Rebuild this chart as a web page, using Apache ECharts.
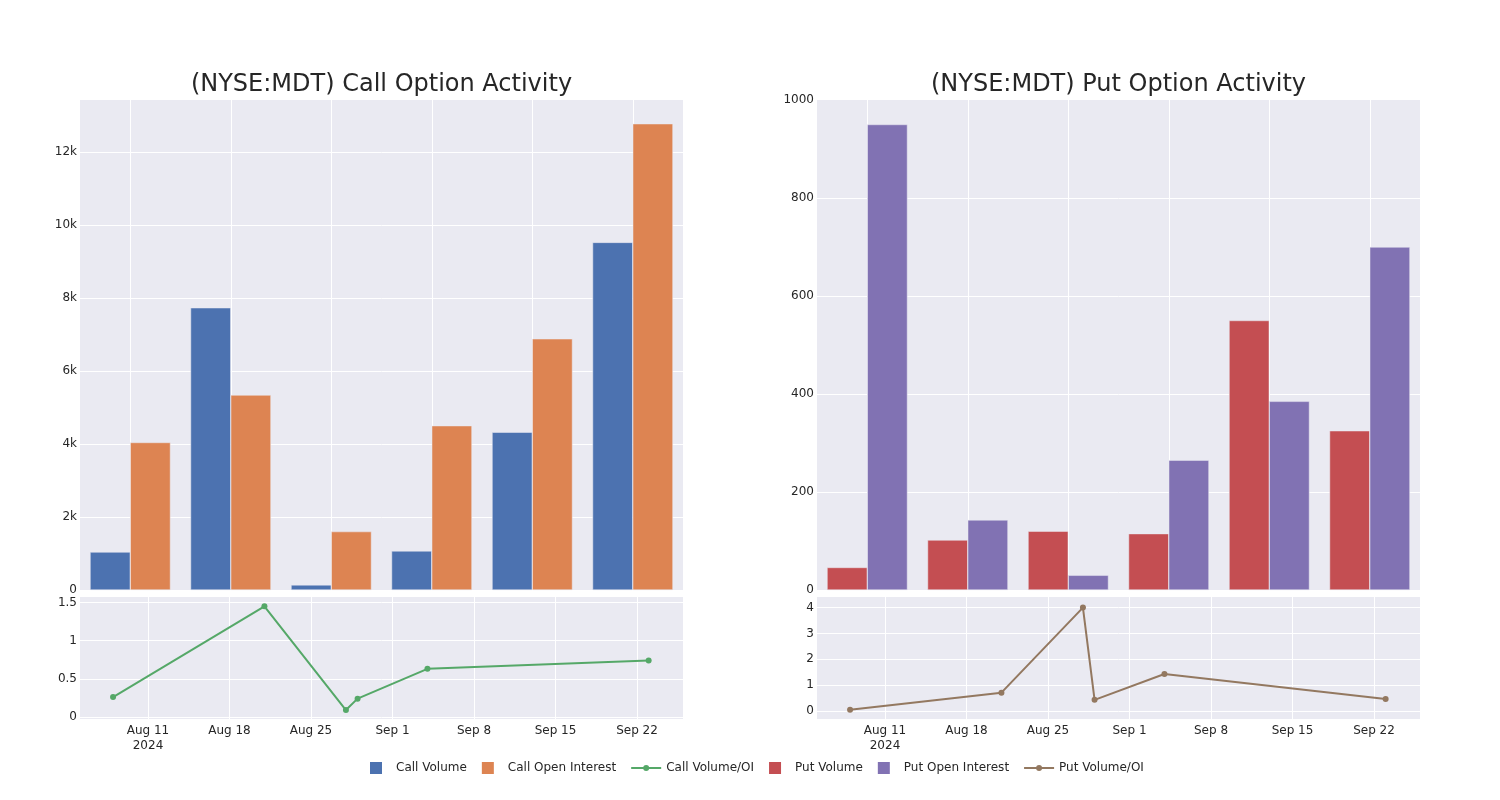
<!DOCTYPE html>
<html><head><meta charset="utf-8">
<script src="https://cdn.jsdelivr.net/npm/echarts@6/dist/echarts.min.js"></script>
<style>html,body{margin:0;padding:0;background:#fff}#c{width:1500px;height:800px}</style>
</head><body><div id="c"></div>
<script>
// ---- data ----
const dates = ['2024-08-08','2024-08-21','2024-08-28','2024-08-29','2024-09-04','2024-09-23'];
const callVolume = [1040, 7730, 140, 1070, 4320, 9520];
const callOpenInterest = [4040, 5340, 1600, 4500, 6880, 12770];
const callRatio = [0.26, 1.45, 0.09, 0.24, 0.63, 0.74];
const putVolume = [46, 102, 120, 115, 550, 325];
const putOpenInterest = [950, 143, 30, 265, 385, 700];
const putRatio = [0.05, 0.71, 4.0, 0.43, 1.43, 0.46];
const titles = ['(NYSE:MDT) Call Option Activity', '(NYSE:MDT) Put Option Activity'];
const monthNames = ['Jan','Feb','Mar','Apr','May','Jun','Jul','Aug','Sep','Oct','Nov','Dec'];

// ---- helpers ----
const DAY = 86400000;
const REF = Date.UTC(2024, 7, 4); // a Sunday; axis counts days from here
const dayOf = s => (Date.parse(s + 'T00:00:00Z') - REF) / DAY;
const X_MIN = 1.16, X_MAX = 52.95;
const firstWeek = Math.ceil(X_MIN / 7) * 7;
const isMult = (v, m) => Math.abs(v / m - Math.round(v / m)) < 1e-6;

const FONT = 'DejaVu Sans';
const TXT = '#262626';
const BG = '#EAEAF2';
const C = {cv:'#4C72B0', coi:'#DD8452', cr:'#55A868', pv:'#C44E52', poi:'#8172B3', pr:'#937860'};

const grids = [
  {left:80, top:100, width:603, height:490},
  {left:80, top:597, width:603, height:122},
  {left:817, top:100, width:603, height:490},
  {left:817, top:597, width:603, height:122}
].map(g => Object.assign({show:true, backgroundColor:BG, borderWidth:0, containLabel:false}, g));

const splitLine = {show:true, lineStyle:{color:'#ffffff', width:1}, showMinLine:false, showMaxLine:false};
const lbl = {color:TXT, fontFamily:FONT, fontSize:12};

function barX(gi) {
  return {type:'category', gridIndex:gi, data:dates, boundaryGap:true,
    axisLabel:{show:false}, axisTick:{show:false, alignWithLabel:true}, axisLine:{show:false},
    splitLine:{show:true, alignWithLabel:true, lineStyle:{color:'#fff', width:1}}};
}
function lineX(gi) {
  return {type:'value', gridIndex:gi, min:X_MIN, max:X_MAX, minInterval:7, maxInterval:7,
    axisTick:{show:false}, axisLine:{show:false}, splitLine:splitLine,
    axisLabel:Object.assign({margin:4, lineHeight:15, showMinLabel:true, showMaxLabel:true,
      formatter: v => {
        if (!isMult(v, 7)) return '';
        const d = new Date(REF + Math.round(v) * DAY);
        const s = monthNames[d.getUTCMonth()] + ' ' + d.getUTCDate();
        return Math.round(v) === firstWeek ? s + '\n' + d.getUTCFullYear() : s;
      }}, lbl)};
}
function yAx(gi, min, max, step, fmt) {
  return {type:'value', gridIndex:gi, min:min, max:max, minInterval:step, maxInterval:step,
    axisTick:{show:false}, axisLine:{show:false}, splitLine:Object.assign({}, splitLine, {showMinLine: min !== 0}),
    axisLabel:Object.assign({margin:3, showMinLabel:true, showMaxLabel:true,
      formatter: v => isMult(v, step) ? fmt(Math.round(v / step) * step) : ''}, lbl)};
}
const kFmt = v => v === 0 ? '0' : (v / 1000) + 'k';
const nFmt = v => String(+v.toFixed(2));

const barStyle = c => ({color:c, borderColor:BG, borderWidth:0.5});
const lineSeries = (name, xi, vals, color) => ({
  name, type:'line', xAxisIndex:xi, yAxisIndex:xi,
  data: dates.map((d, i) => [dayOf(d), vals[i]]),
  symbol:'circle', symbolSize:6, lineStyle:{width:2, color}, itemStyle:{color}, z:3
});
const sq = 'path://M0,0H10V10H0Z';
const lineIcon = 'path://M0,0M30,12M0,5H30V7H0ZM18,6A3,3,0,1,1,12,6A3,3,0,1,1,18,6Z';

const option = {
  animation:false,
  backgroundColor:'#ffffff',
  textStyle:{fontFamily:FONT},
  title: titles.map((t, i) => ({text:t, left: i === 0 ? 376.5 : 1113.5, top:68, textAlign:'center',
    textStyle:{fontFamily:FONT, fontSize:24, fontWeight:'normal', color:TXT}})),
  grid: grids,
  legend: {
    bottom: 26, left:370, itemWidth:30, itemHeight:12, itemGap:15, padding:0,
    itemStyle:{borderWidth:0},
    textStyle:{fontFamily:FONT, fontSize:12, color:TXT},
    data:[
      {name:'Call Volume', icon:sq}, {name:'Call Open Interest', icon:sq}, {name:'Call Volume/OI', icon:lineIcon},
      {name:'Put Volume', icon:sq}, {name:'Put Open Interest', icon:sq}, {name:'Put Volume/OI', icon:lineIcon}
    ]
  },
  xAxis: [barX(0), lineX(1), barX(2), lineX(3)],
  yAxis: [
    yAx(0, 0, 13420, 2000, kFmt),
    yAx(1, -0.027, 1.572, 0.5, nFmt),
    yAx(2, 0, 1000, 200, nFmt),
    yAx(3, -0.31, 4.41, 1, nFmt)
  ],
  series: [
    {name:'Call Volume', type:'bar', xAxisIndex:0, yAxisIndex:0, data:callVolume, itemStyle:barStyle(C.cv), barGap:'0%', barCategoryGap:'20%'},
    {name:'Call Open Interest', type:'bar', xAxisIndex:0, yAxisIndex:0, data:callOpenInterest, itemStyle:barStyle(C.coi), barGap:'0%', barCategoryGap:'20%'},
    lineSeries('Call Volume/OI', 1, callRatio, C.cr),
    {name:'Put Volume', type:'bar', xAxisIndex:2, yAxisIndex:2, data:putVolume, itemStyle:barStyle(C.pv), barGap:'0%', barCategoryGap:'20%'},
    {name:'Put Open Interest', type:'bar', xAxisIndex:2, yAxisIndex:2, data:putOpenInterest, itemStyle:barStyle(C.poi), barGap:'0%', barCategoryGap:'20%'},
    lineSeries('Put Volume/OI', 3, putRatio, C.pr)
  ]
};
const chart = echarts.init(document.getElementById('c'), null, {renderer:'canvas'});
chart.setOption(option);
</script>
</body></html>
